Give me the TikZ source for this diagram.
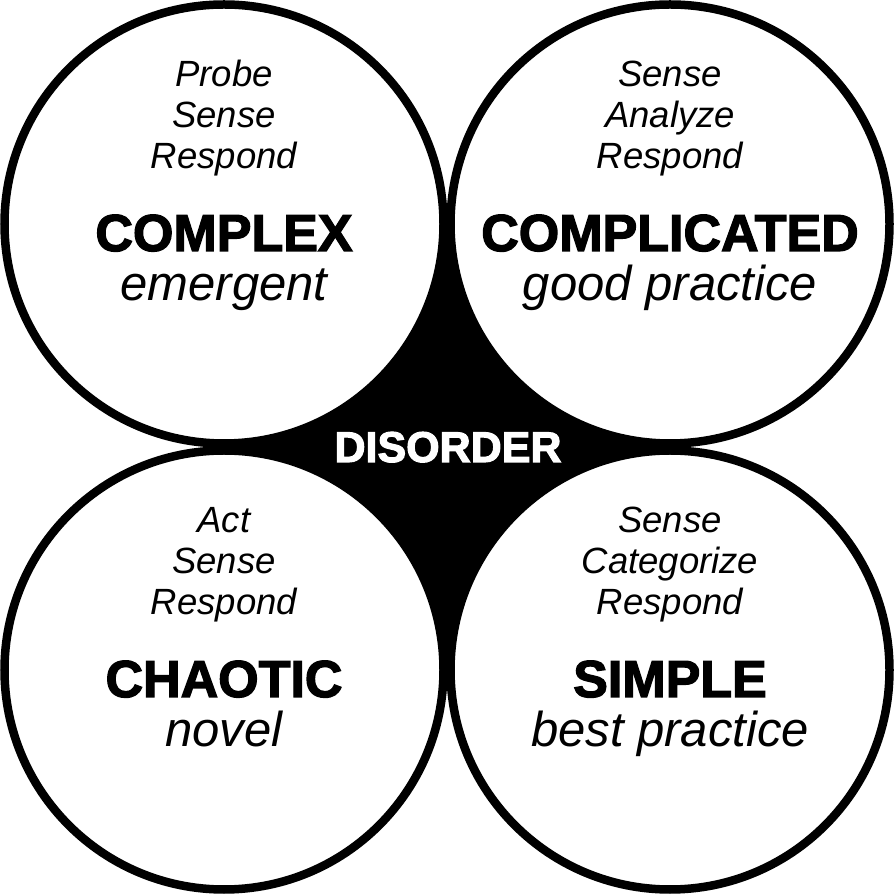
\documentclass[tikz,border=0pt]{standalone}
\usepackage{fontspec}
\setmainfont{Liberation Sans}
\newfontfamily\heavyfont[FakeBold=2.5]{Liberation Sans}
\usetikzlibrary{backgrounds}

\begin{document}
\begin{tikzpicture}[
  x=1pt, y=1pt,
  domcircle/.style={circle, draw=black, fill=white, line width=8.5pt,
                 minimum size=439pt, inner sep=0pt},
  verb/.style={anchor=base, font=\fontsize{36.5}{41}\selectfont\itshape},
  domname/.style={anchor=base, font=\fontsize{52}{60}\selectfont\heavyfont\bfseries},
  practice/.style={anchor=base, font=\fontsize{49}{54}\selectfont\itshape}
]
\useasboundingbox (0,0) rectangle (894,894);

% four domains
\node[domcircle] (complex)     at (224,670) {};
\node[domcircle] (complicated) at (670,670) {};
\node[domcircle] (chaotic)     at (224,224) {};
\node[domcircle] (simple)      at (670,224) {};

% disorder in the middle
\begin{scope}[on background layer]
  \fill[black] (complex.center) rectangle (simple.center);
\end{scope}
\node[anchor=base, text=white,
      font=\fontsize{43}{50}\selectfont\heavyfont\bfseries] (disorder) at (448,432) {DISORDER};

% texts of each domain
\foreach \d/\a/\b/\c/\t/\p in {
  complex/Probe/Sense/Respond/COMPLEX/emergent,
  complicated/Sense/Analyze/Respond/COMPLICATED/good practice,
  chaotic/Act/Sense/Respond/CHAOTIC/novel,
  simple/Sense/Categorize/Respond/SIMPLE/best practice} {
  \node[verb] (\d-1) at ([yshift=137pt]\d.center) {\a};
  \node[verb] (\d-2) at ([yshift=96pt]\d.center) {\b};
  \node[verb] (\d-3) at ([yshift=55pt]\d.center) {\c};
  \node[domname] (\d-t) at ([yshift=-27pt]\d.center) {\t};
  \node[practice] (\d-p) at ([yshift=-77pt]\d.center) {\p};
}
\end{tikzpicture}
\end{document}
